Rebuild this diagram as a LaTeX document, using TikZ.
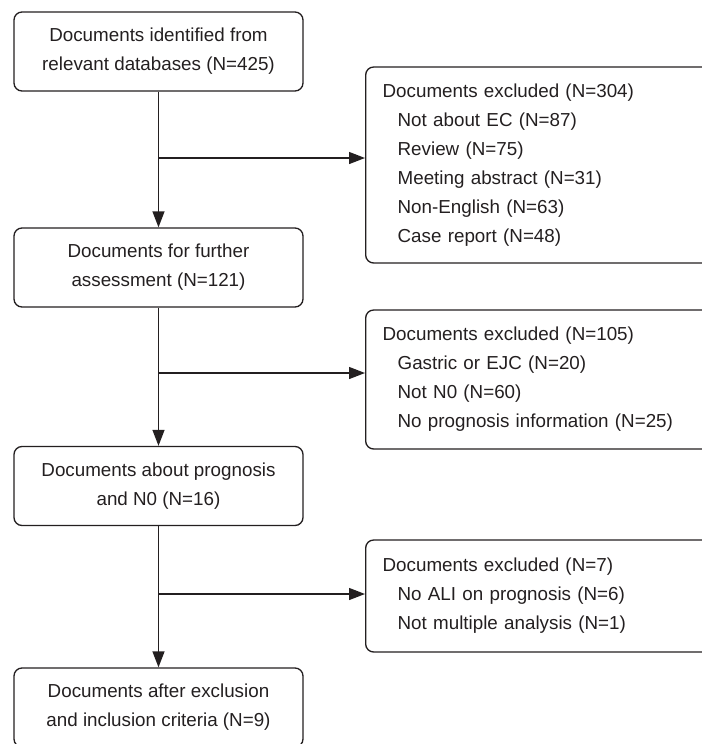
\documentclass[tikz,border=0pt]{standalone}
\usepackage{fontspec}
\setmainfont{Liberation Sans}
\usetikzlibrary{arrows.meta}
\definecolor{ink}{HTML}{231F20}
\newcommand{\reason}{\hspace*{11.25pt}}

\begin{document}
\begin{tikzpicture}[x=0.75pt,y=-0.75pt,
	font=\fontsize{14.1}{21.75}\selectfont, text=ink,
	stage/.style={draw=ink,line width=1pt,rounded corners=6pt,align=center,minimum width=216.75pt,minimum height=59.25pt,inner sep=0pt},
	excluded/.style={draw=ink,line width=1pt,rounded corners=6pt,align=left,anchor=west,text width=250pt,inner xsep=12.75pt,inner ysep=0pt},
	flow/.style={draw=ink,line width=1pt,-{Triangle[length=12pt,width=9pt]}}]
	\useasboundingbox (0,0) rectangle (702,744);
	\clip (0,0) rectangle (702,744);
	\node [stage] (found) at (158.5,51.5) {Documents identified from\\relevant databases (N=425)};
	\node [stage] (further) at (158.5,267.5) {Documents for further\\assessment (N=121)};
	\node [stage] (prognosis) at (158.5,486) {Documents about prognosis\\and N0 (N=16)};
	\node [stage] (final) at (158.5,707.5) {Documents after exclusion\\and inclusion criteria (N=9)};
	\node [excluded,minimum height=147pt] (exclA) at (365,165) {Documents excluded (N=304)\\
		\reason Not about EC (N=87)\\
		\reason Review (N=75)\\
		\reason Meeting abstract (N=31)\\
		\reason Non-English (N=63)\\
		\reason Case report (N=48)};
	\node [excluded,minimum height=104.25pt] (exclB) at (365,379.5) {Documents excluded (N=105)\\
		\reason Gastric or EJC (N=20)\\
		\reason Not N0 (N=60)\\
		\reason No prognosis information (N=25)};
	\node [excluded,minimum height=84pt] (exclC) at (365,596) {Documents excluded (N=7)\\
		\reason No ALI on prognosis (N=6)\\
		\reason Not multiple analysis (N=1)};
	\coordinate (splitA) at (158.5,158);
	\coordinate (splitB) at (158.5,373);
	\coordinate (splitC) at (158.5,594);
	\draw [flow] (found) -- (further);
	\draw [flow] (further) -- (prognosis);
	\draw [flow] (prognosis) -- (final);
	\draw [flow] (splitA) -- (splitA -| exclA.west);
	\draw [flow] (splitB) -- (splitB -| exclB.west);
	\draw [flow] (splitC) -- (splitC -| exclC.west);
\end{tikzpicture}
\end{document}
